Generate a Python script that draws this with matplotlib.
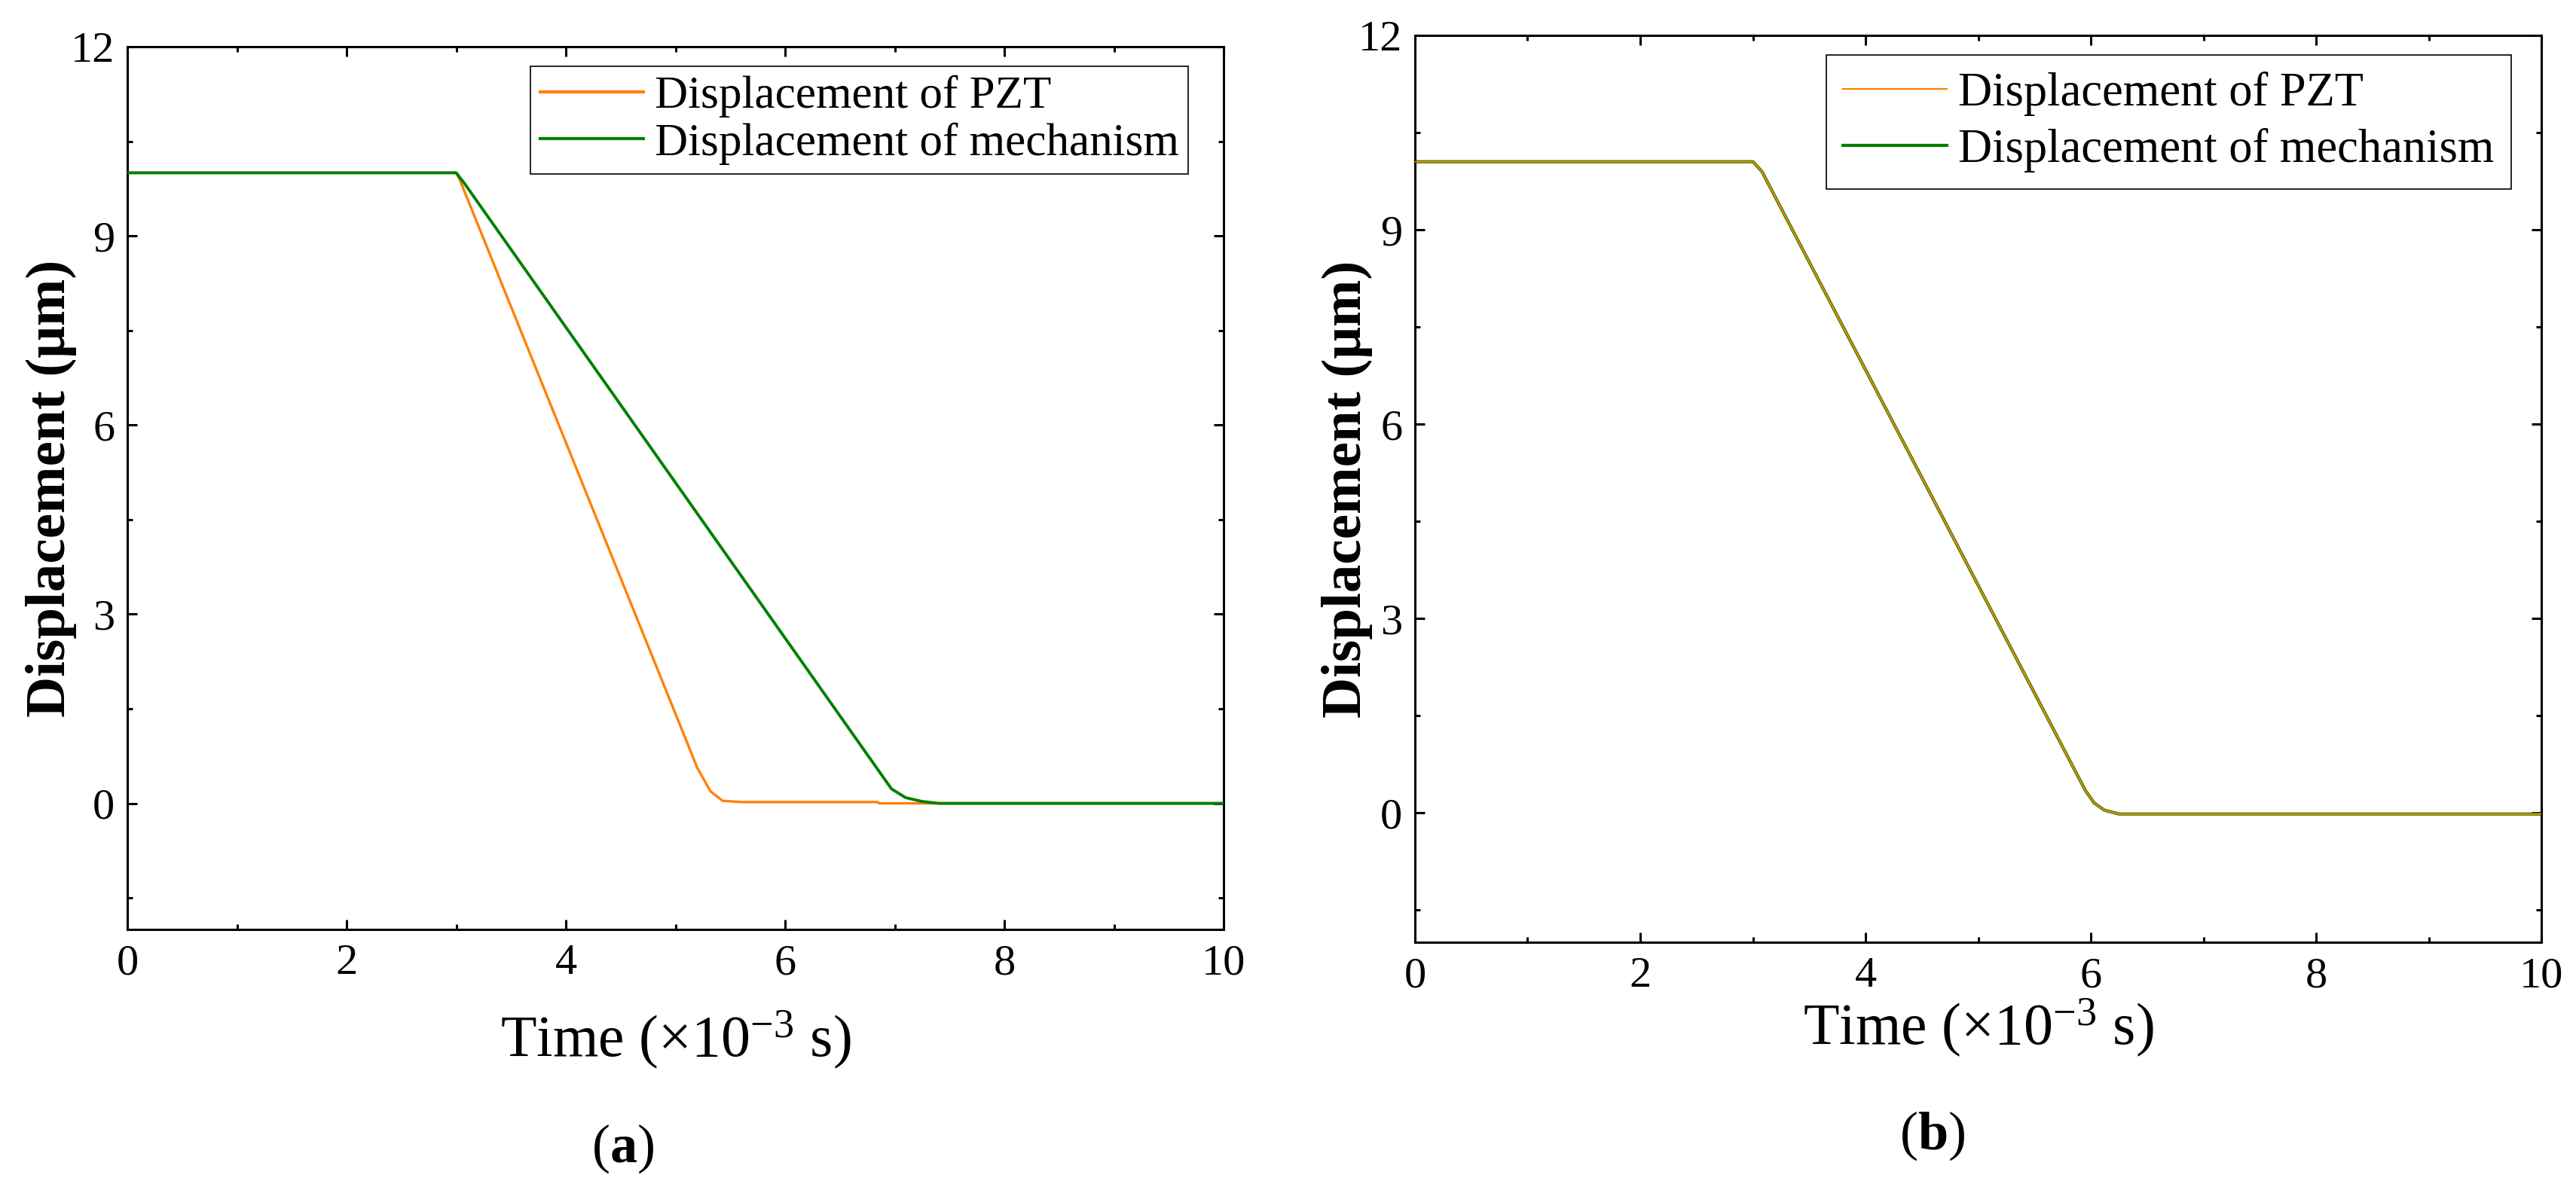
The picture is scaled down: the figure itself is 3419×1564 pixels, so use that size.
# Displacement response of PZT and mechanism, panels (a) and (b)
import matplotlib
matplotlib.use('Agg')
import matplotlib.pyplot as plt
from matplotlib.ticker import MultipleLocator

# Data (time in 1e-3 s, displacement in um)
# Panel (a)
t_pzt_a = [0.0, 3.0, 3.03, 5.2, 5.32, 5.43, 5.6, 6.84, 6.86, 10.0]
d_pzt_a = [10.0, 10.0, 9.9, 0.56, 0.19, 0.04, 0.02, 0.02, 0.0, 0.0]
t_mech_a = [0.0, 3.0, 3.08, 6.97, 7.1, 7.25, 7.4, 10.0]
d_mech_a = [10.0, 10.0, 9.82, 0.23, 0.09, 0.03, 0.0, 0.0]
# Panel (b), both curves nearly identical
t_pzt_b = [0.0, 3.0, 3.08, 5.95, 6.03, 6.12, 6.25, 10.0]
d_pzt_b = [10.05, 10.05, 9.9, 0.35, 0.15, 0.04, -0.02, -0.02]
t_mech_b = [0.0, 3.0, 3.08, 5.95, 6.03, 6.12, 6.25, 10.0]
d_mech_b = [10.05, 10.05, 9.9, 0.35, 0.15, 0.04, -0.02, -0.02]

labels = ['Displacement of PZT', 'Displacement of mechanism']
xticks = [0, 2, 4, 6, 8, 10]
yticks = [0, 3, 6, 9, 12]

c_pzt = '#ff8000'
c_mech = '#008000'

plt.rcParams['font.family'] = ['Liberation Serif', 'DejaVu Serif']
plt.rcParams['mathtext.fontset'] = 'custom'
plt.rcParams['mathtext.rm'] = 'Liberation Serif'
plt.rcParams['mathtext.it'] = 'Liberation Serif:italic'
plt.rcParams['mathtext.bf'] = 'Liberation Serif:bold'

fig = plt.figure(figsize=(34.19, 15.64), dpi=100)
W, H = 3419.0, 1564.0

# axes boxes in pixels: left, top, right, bottom
box_a = (169, 62, 1624, 1234)
box_b = (1878, 47, 3373, 1251)


def make_axes(box):
    l, t, r, b = box
    return fig.add_axes([l / W, 1 - b / H, (r - l) / W, (b - t) / H])


def style_axes(ax):
    ax.set_xlim(0, 10)
    ax.set_ylim(-2, 12)
    ax.set_xticks(xticks)
    ax.set_yticks(yticks)
    ax.xaxis.set_minor_locator(MultipleLocator(1))
    ax.yaxis.set_minor_locator(MultipleLocator(1.5))
    ax.tick_params(which='both', direction='in', top=True, right=True,
                   width=2.2, labelsize=42)
    ax.tick_params(which='major', length=9.5)
    ax.tick_params(which='minor', length=5)
    ax.tick_params(axis='y', pad=12)
    ax.tick_params(axis='x', pad=14)
    for sp in ax.spines.values():
        sp.set_linewidth(2.2)
    ax.set_xlabel(r'Time ($\times$10$^{-3}$ s)', fontsize=56)
    ax.set_ylabel('Displacement (\u03bcm)', fontsize=54, fontweight='bold')


# Panel (a)
ax1 = make_axes(box_a)
ax1.plot(t_pzt_a, d_pzt_a, color=c_pzt, lw=2.4, label=labels[0], zorder=2)
ax1.plot(t_mech_a, d_mech_a, color=c_mech, lw=2.8, label=labels[1], zorder=3)
style_axes(ax1)
ax1.xaxis.set_label_coords(0.5, -0.09)
ax1.yaxis.set_label_coords(-0.046, 0.5)
leg1 = ax1.legend(loc='upper right', bbox_to_anchor=(0.968, 0.978),
                  fontsize=44, handlelength=2.25, handletextpad=0.25,
                  borderpad=0.2, labelspacing=0.1, borderaxespad=0,
                  fancybox=False, framealpha=1, edgecolor='black')
leg1.get_frame().set_linewidth(1.2)
for ln in leg1.get_lines():
    ln.set_linewidth(3.0)

# Panel (b)
ax2 = make_axes(box_b)
ax2.plot(t_mech_b, d_mech_b, color=c_mech, lw=3.0, label=labels[1], zorder=2)
ax2.plot(t_pzt_b, d_pzt_b, color=c_pzt, lw=1.6, label=labels[0], zorder=3)
style_axes(ax2)
ax2.xaxis.set_label_coords(0.5, -0.061)
ax2.yaxis.set_label_coords(-0.0375, 0.5)
h, lab = ax2.get_legend_handles_labels()
leg2 = ax2.legend(h[::-1], lab[::-1], loc='upper right',
                  bbox_to_anchor=(0.973, 0.978),
                  fontsize=45, handlelength=2.2, handletextpad=0.25,
                  borderpad=0.35, labelspacing=0.25, borderaxespad=0,
                  fancybox=False, framealpha=1, edgecolor='black')
leg2.get_frame().set_linewidth(1.2)

# Sub-figure captions
fig.text(827 / W, 1 - 1525 / H, r'($\mathbf{a}$)', fontsize=52,
         ha='center', va='center')
fig.text(2565 / W, 1 - 1508 / H, r'($\mathbf{b}$)', fontsize=52,
         ha='center', va='center')

fig.savefig('out.png', dpi=100)
